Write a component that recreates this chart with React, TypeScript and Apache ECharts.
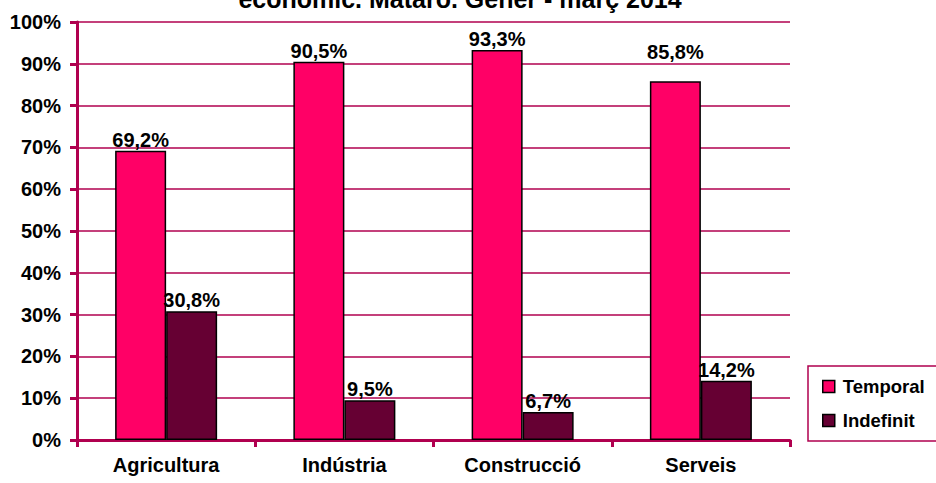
import React, { useEffect, useRef } from "react";
import * as echarts from "echarts";

const categories = ["Agricultura", "Indústria", "Construcció", "Serveis"];
const temporal = [69.2, 90.5, 93.3, 85.8];
const indefinit = [30.8, 9.5, 6.7, 14.2];
const yTicks = [0, 10, 20, 30, 40, 50, 60, 70, 80, 90, 100];
const titleLine = "econòmic. Mataró. Gener - març 2014";

const FONT = "'Liberation Sans', Arial, sans-serif";
const AXIS = "#B0004F";

export default function App() {
  const ref = useRef<HTMLDivElement>(null);
  useEffect(() => {
    const chart = echarts.init(ref.current!, null, { renderer: "svg" });
    const fmt = (v: number) => v.toFixed(1).replace(".", ",") + "%";
    const labelStyle = {
      show: true,
      position: "top",
      distance: 1,
      color: "#000",
      fontFamily: FONT,
      fontWeight: "bold",
      fontSize: 20,
      formatter: (p: any) => fmt(p.value),
    };
    chart.setOption({
      animation: false,
      textStyle: { fontFamily: FONT },
      graphic: [
        {
          type: "text",
          x: 460,
          y: -1,
          style: {
            text: titleLine,
            align: "center",
            verticalAlign: "middle",
            font: `bold 25px ${FONT}`,
            fill: "#000",
          },
        },
      ],
      grid: { left: 77, top: 22, right: 146, bottom: 43, containLabel: false },
      legend: {
        orient: "vertical",
        left: 808,
        top: 366,
        padding: [11, 40, 11, 14],
        itemGap: 15,
        itemWidth: 12,
        itemHeight: 12,
        borderColor: AXIS,
        borderWidth: 1.5,
        icon: "rect",
        textStyle: { fontFamily: FONT, fontWeight: "bold", fontSize: 18.5, color: "#000", padding: [0, 0, 0, 3] },
        itemStyle: { borderColor: "#000", borderWidth: 1.5 },
        data: ["Temporal", "Indefinit"],
      },
      xAxis: {
        type: "category",
        data: categories,
        axisLine: { lineStyle: { color: AXIS, width: 3 } },
        axisTick: { show: true, length: 7, lineStyle: { color: AXIS, width: 3 } },
        axisLabel: { color: "#000", fontFamily: FONT, fontWeight: "bold", fontSize: 20, margin: 15 },
      },
      yAxis: {
        type: "value",
        min: 0,
        max: 100,
        interval: 10,
        axisLine: { show: true, lineStyle: { color: AXIS, width: 3 } },
        axisTick: { show: true, length: 7, lineStyle: { color: AXIS, width: 3 } },
        splitLine: { show: true, lineStyle: { color: AXIS, width: 1.5 } },
        axisLabel: {
          color: "#000",
          fontFamily: FONT,
          fontWeight: "bold",
          fontSize: 20,
          margin: 16,
          formatter: (v: number) => (yTicks.includes(v) ? v + "%" : ""),
        },
      },
      series: [
        {
          name: "Temporal",
          type: "bar",
          data: temporal.map((v, i) =>
            i === 3 ? { value: v, label: { offset: [0, -18] } } : v
          ),
          barWidth: 51,
          barGap: "0%",
          itemStyle: { color: "#FF0066", borderColor: "#000", borderWidth: 1.5 },
          label: labelStyle,
        },
        {
          name: "Indefinit",
          type: "bar",
          data: indefinit,
          barWidth: 51,
          barGap: "0%",
          itemStyle: { color: "#660033", borderColor: "#000", borderWidth: 1.5 },
          label: labelStyle,
        },
      ],
    });
    return () => chart.dispose();
  }, []);
  return <div ref={ref} style={{ width: 936, height: 483, position: "absolute", left: 0, top: 0 }} />;
}
